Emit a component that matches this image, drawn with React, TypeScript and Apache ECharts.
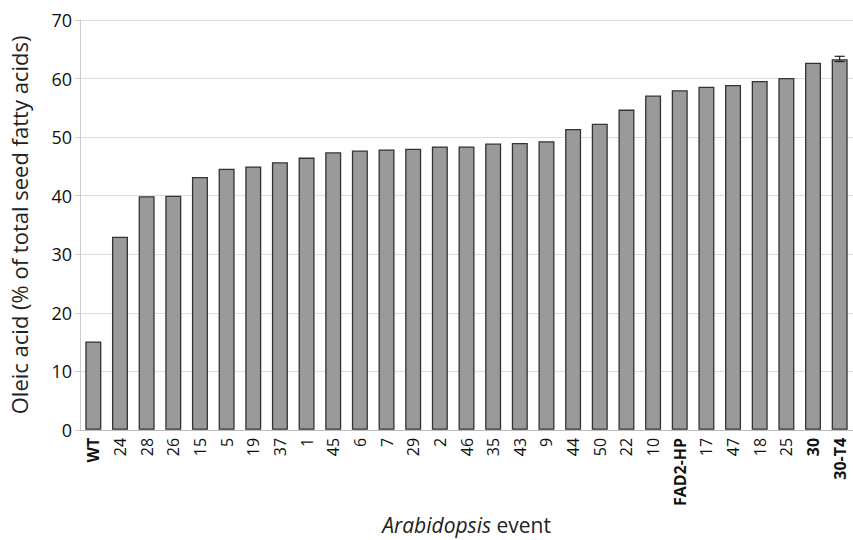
import React, { useEffect, useRef } from "react";
import * as echarts from "echarts";

const categories = ["WT","24","28","26","15","5","19","37","1","45","6","7","29","2","46","35","43","9","44","50","22","10","FAD2-HP","17","47","18","25","30","30-T4"];
const values = [15.1,33.0,39.9,40.0,43.2,44.6,45.0,45.7,46.5,47.4,47.7,47.9,48.0,48.4,48.4,48.9,49.0,49.3,51.4,52.3,54.7,57.1,58.0,58.6,58.9,59.6,60.1,62.7,63.3];
const boldLabels = ["WT","FAD2-HP","30","30-T4"];
const errorBars = [[28, 62.9, 63.8]];
const yTicks = [0, 10, 20, 30, 40, 50, 60, 70];

const FONT = "Open Sans";

export default function App() {
  const ref = useRef<HTMLDivElement>(null);
  useEffect(() => {
    const chart = echarts.init(ref.current!, null, { renderer: "svg" });
    chart.setOption({
      animation: false,
      grid: { left: 78, right: 0, top: 20, bottom: 108 },
      xAxis: {
        type: "category",
        data: categories,
        name: "{i|Arabidopsis} event",
        nameLocation: "middle",
        nameGap: 82,
        nameTextStyle: {
          fontFamily: FONT, fontSize: 21, color: "#222",
          rich: { i: { fontFamily: FONT, fontSize: 21, fontStyle: "italic", color: "#222" } },
        },
        axisLine: { lineStyle: { color: "#bbb", width: 1 } },
        axisTick: { show: false },
        axisLabel: {
          interval: 0,
          rotate: 90,
          margin: 8,
          fontFamily: FONT,
          fontSize: 16,
          color: "#111",
          formatter: (v: string) => (boldLabels.includes(v) ? `{b|${v}}` : `{n|${v}}`),
          rich: {
            b: { fontFamily: FONT, fontSize: 16, fontWeight: "bold", color: "#111" },
            n: { fontFamily: FONT, fontSize: 16, color: "#111" },
          },
        },
      },
      yAxis: {
        type: "value",
        min: yTicks[0],
        max: yTicks[yTicks.length - 1],
        interval: 10,
        name: "Oleic acid (% of total seed fatty acids)",
        nameLocation: "middle",
        nameGap: 50,
        nameTextStyle: { fontFamily: FONT, fontSize: 22, color: "#222" },
        axisLine: { show: true, lineStyle: { color: "#ccc" } },
        axisTick: { show: true, length: 5, lineStyle: { color: "#ccc" } },
        axisLabel: { fontFamily: FONT, fontSize: 18, color: "#111", margin: 8 },
        splitLine: { lineStyle: { color: "#ddd", width: 1 } },
      },
      series: [
        {
          type: "bar",
          data: values,
          barWidth: 16,
          itemStyle: { color: "#9a9a9a", borderColor: "#333", borderWidth: 1.3 },
        },
        {
          type: "custom",
          data: errorBars,
          z: 10,
          renderItem: (params: any, api: any) => {
            const x = api.value(0);
            const lo = api.coord([x, api.value(1)]);
            const hi = api.coord([x, api.value(2)]);
            const w = 5;
            const st = { stroke: "#222", lineWidth: 1.2 };
            return {
              type: "group",
              children: [
                { type: "line", shape: { x1: lo[0], y1: lo[1], x2: hi[0], y2: hi[1] }, style: st },
                { type: "line", shape: { x1: lo[0] - w, y1: lo[1], x2: lo[0] + w, y2: lo[1] }, style: st },
                { type: "line", shape: { x1: hi[0] - w, y1: hi[1], x2: hi[0] + w, y2: hi[1] }, style: st },
              ],
            };
          },
        },
      ],
    });
    return () => chart.dispose();
  }, []);
  return <div ref={ref} style={{ position: "fixed", left: 0, top: 0, width: 853, height: 540, background: "#fff" }} />;
}
